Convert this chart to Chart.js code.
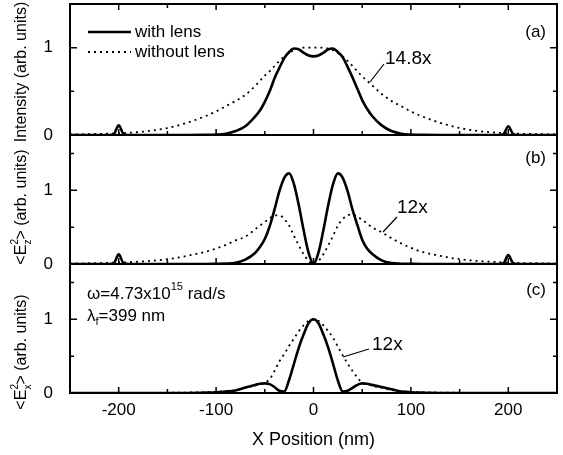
<!DOCTYPE html>
<html>
<head>
<meta charset="utf-8">
<script src="https://cdn.jsdelivr.net/npm/chart.js@4"></script>
<style>
  html, body { margin: 0; padding: 0; background: #fff; }
  #plot { display: block; }
</style>
</head>
<body>
<canvas id="plot" width="563" height="455"></canvas>
<script>
// x positions (nm) shared by all curves
const xPos = [-250,-230,-210,-205,-200,-195,-190,-170,-150,-130,-110,-100,-90,-80,-70,-60,-55,-50,-45,-40,-35,-30,-25,-20,-15,-10,-5,
  0,
  5,10,15,20,25,30,35,40,45,50,55,60,70,80,90,100,110,130,150,170,190,195,200,205,210,230,250];

// (a) intensity
const intensityLens = [0,0,0,0.01,0.11,0.01,0,0,0,0,0.002,0.005,0.015,0.045,0.10,0.21,0.28,0.38,0.50,0.65,0.77,0.88,0.95,0.99,0.98,0.94,0.91,
  0.90,
  0.91,0.94,0.98,0.99,0.95,0.89,0.78,0.66,0.53,0.40,0.30,0.22,0.11,0.045,0.015,0.005,0.002,0,0,0,0,0.01,0.10,0.01,0,0,0];
const intensityNoLens = [0.005,0.01,0.015,0.017,0.02,0.022,0.025,0.045,0.08,0.14,0.22,0.27,0.33,0.39,0.46,0.56,0.62,0.68,0.73,0.79,0.85,0.90,0.94,0.97,0.99,1.0,1.0,
  1.0,
  1.0,1.0,0.99,0.97,0.94,0.90,0.85,0.79,0.73,0.67,0.62,0.57,0.47,0.39,0.33,0.27,0.22,0.14,0.08,0.045,0.025,0.022,0.02,0.017,0.015,0.01,0.005];

// (b) <Ez^2>
const ezLens = [0,0,0,0.01,0.13,0.01,0,0,0,0,0,0.002,0.005,0.015,0.06,0.15,0.23,0.34,0.51,0.74,0.99,1.17,1.23,1.08,0.79,0.45,0.15,
  0,
  0.15,0.45,0.79,1.08,1.23,1.17,0.99,0.74,0.53,0.33,0.21,0.14,0.05,0.012,0.004,0.002,0,0,0,0,0,0.01,0.12,0.01,0,0,0];
const ezNoLens = [0.005,0.01,0.015,0.018,0.02,0.022,0.025,0.04,0.065,0.11,0.17,0.21,0.26,0.32,0.37,0.47,0.52,0.57,0.62,0.66,0.66,0.61,0.52,0.38,0.25,0.13,0.04,
  0,
  0.04,0.13,0.25,0.38,0.52,0.61,0.66,0.67,0.64,0.60,0.55,0.50,0.43,0.35,0.28,0.22,0.17,0.11,0.065,0.04,0.025,0.022,0.02,0.018,0.015,0.01,0.005];

// (c) <Ex^2>
const exLens = [0,0,0,0,0,0,0,0,0,0,0.005,0.01,0.02,0.035,0.075,0.11,0.125,0.13,0.12,0.08,0.03,0.02,0.18,0.40,0.62,0.80,0.95,
  1.0,
  0.95,0.80,0.62,0.40,0.17,0.02,0.03,0.07,0.11,0.13,0.125,0.11,0.08,0.05,0.02,0.01,0.005,0,0,0,0,0,0,0,0,0,0];
const exNoLens = [0,0,0,0,0,0,0,0,0.003,0.006,0.01,0.015,0.025,0.04,0.07,0.10,0.12,0.14,0.19,0.30,0.43,0.53,0.64,0.74,0.84,0.92,0.98,
  1.0,
  0.98,0.92,0.84,0.75,0.63,0.51,0.40,0.30,0.21,0.14,0.12,0.10,0.07,0.04,0.025,0.015,0.01,0.006,0.003,0,0,0,0,0,0,0,0];

const xTicks = [-200, -100, 0, 100, 200];
const panelTicks = [0, 0.5, 1, 1.5];
const tickLabels = { 0: '0', 1: '1' };

const FONT = "'Liberation Sans', Arial, sans-serif";

function pts(ys) {
  return xPos.map((x, i) => ({ x: x, y: ys[i] }));
}

function solid(ys, axis) {
  return { data: pts(ys), yAxisID: axis, borderColor: '#000', borderWidth: 2.6, pointRadius: 0,
           cubicInterpolationMode: 'monotone', fill: false };
}
function dotted(ys, axis) {
  return { data: pts(ys), yAxisID: axis, borderColor: '#000', borderWidth: 1.8, borderDash: [2, 4], pointRadius: 0,
           cubicInterpolationMode: 'monotone', fill: false };
}

function yScale(max, weight) {
  return {
    type: 'linear', position: 'left', stack: 'panels', stackWeight: weight,
    min: 0, max: max,
    grid: { display: false }, border: { display: false },
    afterBuildTicks: s => { s.ticks = panelTicks.filter(v => v <= max).map(v => ({ value: v })); },
    afterFit: s => { s.width = 70; s.paddingTop = 0; s.paddingBottom = 0; },
    ticks: { autoSkip: false, padding: 9, color: '#000', font: { family: FONT, size: 17 },
             callback: v => (v in tickLabels ? tickLabels[v] : '') }
  };
}

// superscript/subscript text helper
function richText(ctx, parts, x, y, align) {
  let total = 0;
  parts.forEach(p => { ctx.font = (p.size || 16) + 'px ' + FONT; p.w = ctx.measureText(p.t).width; if (!p.stack) total += p.w; });
  let cx = align === 'center' ? x - total / 2 : x;
  ctx.textAlign = 'left';
  ctx.textBaseline = 'middle';
  parts.forEach(p => {
    ctx.font = (p.size || 16) + 'px ' + FONT;
    ctx.fillText(p.t, cx, y + (p.dy || 0));
    if (!p.stack) cx += p.w;
  });
}

const decorations = {
  id: 'decorations',
  afterDraw(chart) {
    const ctx = chart.ctx;
    const ca = chart.chartArea;
    const sx = chart.scales.x;
    const panels = [chart.scales.ya, chart.scales.yb, chart.scales.yc];
    ctx.save();
    ctx.strokeStyle = '#000';
    ctx.fillStyle = '#000';

    // frame and panel dividers
    ctx.lineWidth = 2;
    ctx.strokeRect(ca.left, ca.top, ca.right - ca.left, ca.bottom - ca.top);
    ctx.beginPath();
    ctx.moveTo(ca.left, panels[0].bottom); ctx.lineTo(ca.right, panels[0].bottom);
    ctx.moveTo(ca.left, panels[1].bottom); ctx.lineTo(ca.right, panels[1].bottom);
    ctx.stroke();

    // inward ticks
    ctx.lineWidth = 1.5;
    ctx.beginPath();
    for (let v = -200; v <= 200; v += 50) {
      const px = sx.getPixelForValue(v);
      const len = v % 100 === 0 ? 6 : 4;
      panels.forEach(p => { ctx.moveTo(px, p.bottom); ctx.lineTo(px, p.bottom - len); });
      ctx.moveTo(px, ca.top); ctx.lineTo(px, ca.top + len);
    }
    panels.forEach(p => {
      panelTicks.forEach(v => {
        if (v <= 0 || v > p.max) return;
        const py = p.getPixelForValue(v);
        const len = Number.isInteger(v) ? 7 : 4;
        ctx.moveTo(ca.left, py); ctx.lineTo(ca.left + len, py);
        ctx.moveTo(ca.right, py); ctx.lineTo(ca.right - len, py);
      });
    });
    ctx.stroke();

    // legend
    ctx.lineWidth = 2.6;
    ctx.beginPath(); ctx.moveTo(88, 32); ctx.lineTo(131, 32); ctx.stroke();
    ctx.lineWidth = 1.8; ctx.setLineDash([2, 4]);
    ctx.beginPath(); ctx.moveTo(88, 52); ctx.lineTo(131, 52); ctx.stroke();
    ctx.setLineDash([]);
    ctx.font = '17px ' + FONT;
    ctx.textAlign = 'left'; ctx.textBaseline = 'middle';
    ctx.fillText('with lens', 135, 32);
    ctx.fillText('without lens', 135, 52);

    // panel letters
    ctx.textAlign = 'right';
    ctx.fillText('(a)', 546, 32);
    ctx.fillText('(b)', 546, 158);
    ctx.fillText('(c)', 546, 290);

    // enhancement labels with leader lines
    ctx.lineWidth = 1.2;
    ctx.beginPath();
    ctx.moveTo(370, 82); ctx.lineTo(384, 64);
    ctx.moveTo(383, 232); ctx.lineTo(397, 217);
    ctx.moveTo(343, 357); ctx.lineTo(369, 349);
    ctx.stroke();
    ctx.font = '19px ' + FONT;
    ctx.textAlign = 'left';
    ctx.fillText('14.8x', 385, 59);
    ctx.fillText('12x', 397, 208);
    ctx.fillText('12x', 372, 345);

    // parameters in panel (c)
    richText(ctx, [{ t: 'ω=4.73x10', size: 17 }, { t: '15', size: 11, dy: -7 }, { t: ' rad/s', size: 17 }], 87, 294, 'left');
    richText(ctx, [{ t: 'λ', size: 17 }, { t: 'f', size: 11, dy: 6 }, { t: '=399 nm', size: 17 }], 87, 316, 'left');

    // y axis titles (rotated)
    const titles = [
      { y: 72, parts: [{ t: 'Intensity (arb. units)', size: 16 }] },
      { y: 207, parts: [{ t: '<E', size: 16 }, { t: '2', size: 10, dy: -7, stack: true }, { t: 'z', size: 10, dy: 6 }, { t: '> (arb. units)', size: 16 }] },
      { y: 352, parts: [{ t: '<E', size: 16 }, { t: '2', size: 10, dy: -7, stack: true }, { t: 'x', size: 10, dy: 6 }, { t: '> (arb. units)', size: 16 }] }
    ];
    titles.forEach(tt => {
      ctx.save();
      ctx.translate(22, tt.y);
      ctx.rotate(-Math.PI / 2);
      richText(ctx, tt.parts, 0, 0, 'center');
      ctx.restore();
    });
    ctx.restore();
  }
};

new Chart(document.getElementById('plot'), {
  type: 'line',
  data: {
    datasets: [
      solid(intensityLens, 'ya'), dotted(intensityNoLens, 'ya'),
      solid(ezLens, 'yb'), dotted(ezNoLens, 'yb'),
      solid(exLens, 'yc'), dotted(exNoLens, 'yc')
    ]
  },
  options: {
    responsive: false,
    animation: false,
    devicePixelRatio: 1,
    layout: { padding: { top: 4, right: 6, left: 0, bottom: 0 } },
    plugins: { legend: { display: false }, tooltip: { enabled: false } },
    scales: {
      x: {
        type: 'linear', position: 'bottom', min: -250, max: 250,
        grid: { display: false, drawTicks: false }, border: { display: false },
        afterBuildTicks: s => { s.ticks = xTicks.map(v => ({ value: v })); },
        afterFit: s => { s.height = 62; },
        ticks: { autoSkip: false, maxRotation: 0, padding: 7, color: '#000', font: { family: FONT, size: 17 } },
        title: { display: true, text: 'X Position (nm)', color: '#000', font: { family: FONT, size: 18 },
                 padding: { top: 0, bottom: 4 } }
      },
      // stacked panels are laid out bottom-up in definition order
      yc: yScale(1.75, 129),
      yb: yScale(1.75, 129),
      ya: yScale(1.5, 131)
    }
  },
  plugins: [decorations]
});
</script>
</body>
</html>
